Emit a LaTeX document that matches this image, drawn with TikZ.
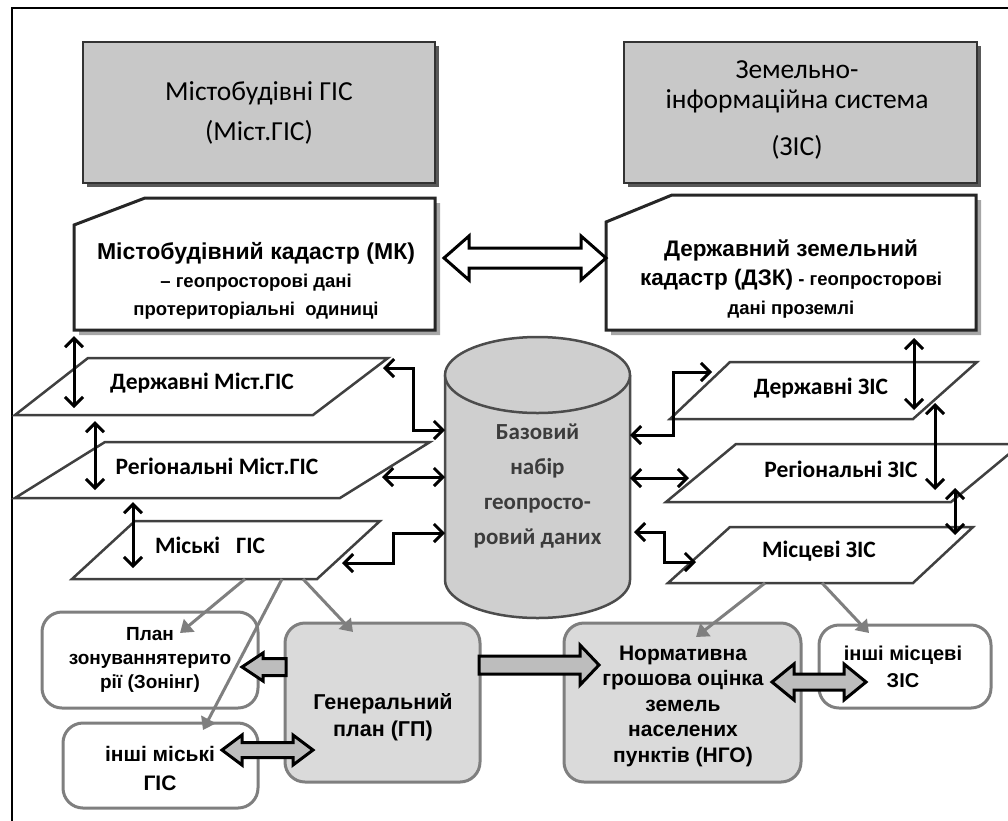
\documentclass[tikz,border=0pt]{standalone}
\usepackage{fontspec}
\setmainfont{Carlito}
\newfontfamily\arialf{Liberation Sans}
\usetikzlibrary{arrows.meta,calc}
\definecolor{topfill}{HTML}{C8C8C8}
\definecolor{cylfill}{HTML}{CFCFCF}
\definecolor{boxfill}{HTML}{DADADA}
\definecolor{fatfill}{HTML}{BDBDBD}
\definecolor{greyln}{HTML}{7F7F7F}
\definecolor{cyltext}{HTML}{3C3C3C}
\newcommand\dblfat[6]{%
 \path[#6] let \p1=(#1), \p2=(#2) in
 (\x1,\y1) -- ({\x1+#5},{\y1+#4}) -- ({\x1+#5},{\y1+#3}) -- ({\x2-#5},{\y1+#3}) --
 ({\x2-#5},{\y1+#4}) -- (\x2,\y1) -- ({\x2-#5},{\y1-#4}) -- ({\x2-#5},{\y1-#3}) --
 ({\x1+#5},{\y1-#3}) -- ({\x1+#5},{\y1-#4}) -- cycle;}
\newcommand\sglfat[6]{%
 \path[#6] let \p1=(#1), \p2=(#2) in
 (\x1,{\y2+#3}) -- ({\x2-(#5)},{\y2+#3}) -- ({\x2-(#5)},{\y2+#4}) -- (\x2,\y2) --
 ({\x2-(#5)},{\y2-#4}) -- ({\x2-(#5)},{\y2-#3}) -- (\x1,{\y2-#3}) -- cycle;}
\tikzset{
 topbox/.style={draw=black!80, line width=2.5pt, fill=topfill, inner sep=0pt},
 cadbox/.style={draw=black!85, line width=3pt, fill=white},
 parabox/.style={draw=black!75, line width=2.5pt, fill=white},
 rbox/.style={draw=greyln, line width=3pt, rounded corners=20pt, inner sep=0pt},
 blk/.style={line width=3pt, {Straight Barb[length=9pt,width=18pt]}-{Straight Barb[length=9pt,width=18pt]}},
 gra/.style={draw=greyln, line width=3pt, -{Triangle[length=12pt,width=16pt]}},
 fat/.style={draw=black, line width=3pt, fill=fatfill, line join=miter},
 hollow/.style={draw=black, line width=3pt, fill=white, line join=miter},
 toptext/.style={font=\fontsize{27}{40}\selectfont, align=center},
 cadtext/.style={font=\arialf\bfseries\fontsize{18.5}{28}\selectfont, align=center},
 paratext/.style={font=\bfseries\fontsize{23.5}{25}\selectfont},
 cyltxt/.style={font=\bfseries\fontsize{23}{35}\selectfont, align=center, text=cyltext},
 bottext/.style={font=\arialf\bfseries\fontsize{21}{25}\selectfont, align=center},
}
\begin{document}
\begin{tikzpicture}[x=1pt,y=-1pt]
\useasboundingbox (0,0) rectangle (1008,820);
\clip (0,0) rectangle (1008,820);
% frame
\draw[line width=2.5pt] (12,822) -- (12,8) -- (1010,8);
% top boxes
\fill[black!65] (87,46) rectangle (439,187);
\node[topbox, minimum width=352pt, minimum height=141pt] (mgis) at (259,112.5)
 {\fontsize{27.5}{40}\selectfont\begin{tabular}{c}Містобудівні ГІС\\(Міст.ГІС)\end{tabular}};
\fill[black!65] (628,46) rectangle (981,187);
\node[topbox, minimum width=353pt, minimum height=141pt] (zis) at (800.5,112.5) {};
\node[toptext, font=\fontsize{27.5}{30}\selectfont] (zistxt) at (797,110) {Земельно-\\інформаційна система\\[17pt](ЗІС)};
% cadastre boxes
\fill[black!35] (79,230) -- (150,203) -- (440,203) -- (440,335) -- (79,335) -- cycle;
\draw[cadbox] (74,225) -- (145,198) -- (435,198) -- (435,330) -- (74,330) -- cycle;
\node[cadtext] (mk) at (256,281) {{\fontsize{23}{28}\selectfont Містобудівний кадастр (МК)}\\– геопросторові дані\\протериторіальні\ \ одиниці};
\fill[black!35] (611,227) -- (677,200) -- (981,200) -- (981,335) -- (611,335) -- cycle;
\draw[cadbox] (606,222) -- (672,195) -- (976,195) -- (976,330) -- (606,330) -- cycle;
\node[cadtext, font=\arialf\bfseries\fontsize{18.5}{29}\selectfont] (dzk) at (791,279) {{\fontsize{22.5}{29}\selectfont Державний земельний}\\{\fontsize{22.5}{29}\selectfont кадастр (ДЗК)} - геопросторові\\дані проземлі};
% hollow double arrow between cadastres
\coordinate (hA) at (444,258);
\coordinate (hB) at (606,258);
\dblfat{hA}{hB}{10pt}{22pt}{25pt}{hollow}
% parallelograms left
\draw[parabox] (88,358) -- (388,358) -- (313,415) -- (15,415) -- cycle;
\node[paratext] (dm) at (202,383) {Державні Міст.ГІС};
\draw[parabox] (105,442) -- (430,442) -- (340,498) -- (15,498) -- cycle;
\node[paratext] (rm) at (217,466) {Регіональні Міст.ГІС};
\draw[parabox] (135,521) -- (380,521) -- (317,579) -- (72,579) -- cycle;
\node[paratext] (mg) at (210,545) {Міські\ \ \ ГІС};
% parallelograms right
\draw[parabox] (730,362) -- (977,362) -- (913,419) -- (670,419) -- cycle;
\node[paratext] (dz) at (821,388) {Державні ЗІС};
\draw[parabox] (736,444) -- (1021,444) -- (951,502) -- (666,502) -- cycle;
\node[paratext] (rz) at (841,469) {Регіональні ЗІС};
\draw[parabox] (730,527) -- (973,527) -- (913,583) -- (668,583) -- cycle;
\node[paratext] (mz) at (819,551) {Місцеві ЗІС};
% vertical double arrows
\coordinate (l1a) at (74,336); \coordinate (l1b) at (74,408);
\coordinate (l2a) at (95,421); \coordinate (l2b) at (95,490);
\coordinate (l3a) at (133,502); \coordinate (l3b) at (133,568);
\coordinate (r1a) at (914,338); \coordinate (r1b) at (914,410);
\coordinate (r2a) at (935,403); \coordinate (r2b) at (935,490);
\coordinate (r3a) at (955,488); \coordinate (r3b) at (955,535);
\draw[blk] (l1a) -- (l1b);
\draw[blk] (l2a) -- (l2b);
\draw[blk] (l3a) -- (l3b);
\draw[blk] (r1a) -- (r1b);
\draw[blk] (r2a) -- (r2b);
\draw[blk] (r3a) -- (r3b);
% cylinder
\fill[cylfill] (445,375) rectangle (630,580);
\fill[cylfill] (537.5,580) ellipse [x radius=92.5, y radius=38];
\draw[draw=black!70, line width=2.5pt] (445,375) -- (445,580) arc[start angle=180, end angle=0, x radius=92.5, y radius=38] -- (630,375);
\draw[draw=black!70, line width=2.5pt, fill=cylfill] (537.5,375) ellipse [x radius=92.5, y radius=38];
\node[cyltxt] (base) at (537.5,486) {Базовий\\набір\\геопросто-\\ровий даних};
% cylinder arrows
\coordinate (c1a) at (383,368); \coordinate (c1b) at (445,430);
\coordinate (c2a) at (382,477); \coordinate (c2b) at (445,477);
\coordinate (c3a) at (342,563); \coordinate (c3b) at (445,533);
\coordinate (d1a) at (630,435); \coordinate (d1b) at (712,372);
\coordinate (d2a) at (630,478); \coordinate (d2b) at (689,478);
\coordinate (d3a) at (634,532); \coordinate (d3b) at (696,562);
\draw[blk] (c1a) -- (413,368) -- (413,430) -- (c1b);
\draw[blk] (c2a) -- (c2b);
\draw[blk] (c3a) -- (393,563) -- (393,533) -- (c3b);
\draw[blk] (d1a) -- (673,435) -- (673,372) -- (d1b);
\draw[blk] (d2a) -- (d2b);
\draw[blk] (d3a) -- (664,532) -- (664,562) -- (d3b);
% bottom boxes
\node[rbox, fill=white, minimum width=216pt, minimum height=96pt] (pz) at (150,660) {};
\node[bottext, font=\arialf\bfseries\fontsize{19}{24}\selectfont] (pztxt) at (150,660) {План\\зонуваннятерито\\рії (Зонінг)};
\node[rbox, fill=white, minimum width=195pt, minimum height=85pt] (im) at (160.5,765.5) {};
\node[bottext, font=\arialf\bfseries\fontsize{21}{29}\selectfont] (imtxt) at (160,768) {інші міські\\ГІС};
\node[rbox, fill=boxfill, minimum width=195pt, minimum height=159pt] (gp) at (382.5,702.5) {};
\node[bottext, font=\arialf\bfseries\fontsize{21.5}{27}\selectfont] (gptxt) at (383,717) {Генеральний\\план (ГП)};
\node[rbox, fill=boxfill, minimum width=237pt, minimum height=159pt] (ng) at (682.5,702.5) {};
\node[bottext, font=\arialf\bfseries\fontsize{21}{25.5}\selectfont] (ngtxt) at (683,706) {Нормативна\\грошова оцінка\\земель\\населених\\пунктів (НГО)};
\node[rbox, fill=white, minimum width=172pt, minimum height=83pt] (iz) at (905,666.5) {};
\node[bottext, font=\arialf\bfseries\fontsize{20}{27}\selectfont] (iztxt) at (903,667) {інші місцеві\\ЗІС};
% grey thin arrows
\coordinate (g1a) at (245,579); \coordinate (g1b) at (180,633);
\coordinate (g2a) at (282,579); \coordinate (g2b) at (203,730);
\coordinate (g3a) at (303,579); \coordinate (g3b) at (353,632);
\coordinate (g4a) at (765,583); \coordinate (g4b) at (696,637);
\coordinate (g5a) at (822,583); \coordinate (g5b) at (869,633);
\draw[gra] (g1a) -- (g1b);
\draw[gra] (g2a) -- (g2b);
\draw[gra] (g3a) -- (g3b);
\draw[gra] (g4a) -- (g4b);
\draw[gra] (g5a) -- (g5b);
% fat grey arrows
\coordinate (f1a) at (286,667); \coordinate (f1b) at (242,667);
\sglfat{f1a}{f1b}{8.5pt}{14pt}{-21pt}{fat}
\coordinate (f2a) at (222,750); \coordinate (f2b) at (313,750);
\dblfat{f2a}{f2b}{7.5pt}{15pt}{20pt}{fat}
\coordinate (f3a) at (479,665); \coordinate (f3b) at (599,665);
\sglfat{f3a}{f3b}{9pt}{20pt}{19pt}{fat}
\coordinate (f4a) at (772,682); \coordinate (f4b) at (866,682);
\dblfat{f4a}{f4b}{8pt}{18pt}{22pt}{fat}
\end{tikzpicture}
\end{document}
